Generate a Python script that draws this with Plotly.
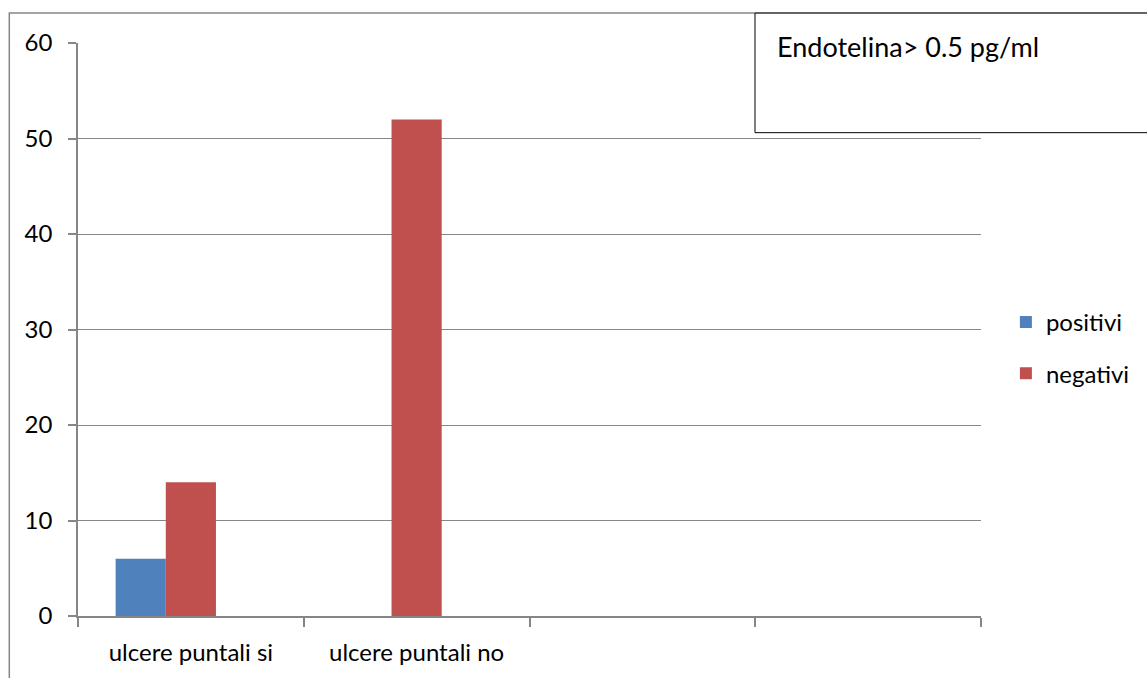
import plotly.graph_objects as go

categories = ["ulcere puntali si", "ulcere puntali no", "", ""]
positivi = [6, 0, None, None]
negativi = [14, 52, None, None]
spacer = [None, None, None, None]
title_text = "Endotelina> 0.5 pg/ml"
y_ticks = [0, 10, 20, 30, 40, 50, 60]

xpos = list(range(len(categories)))
FONT = "Lato, Liberation Sans, sans-serif"

fig = go.Figure()
fig.add_trace(go.Bar(x=xpos, y=positivi, name="positivi", legendgroup="a",
                     marker=dict(color="#4F81BD", line=dict(width=0))))
fig.add_trace(go.Bar(x=xpos, y=negativi, name="negativi", legendgroup="b",
                     marker=dict(color="#C0504D", line=dict(width=0))))
fig.add_trace(go.Bar(x=xpos, y=spacer, name="", showlegend=False, hoverinfo="skip"))

W, H = 1147, 678
L, R, T, B = 78, 985, 43, 618

fig.update_layout(
    width=W, height=H,
    margin=dict(l=L, r=W - R, t=T, b=H - B, pad=0),
    paper_bgcolor="white", plot_bgcolor="white",
    barmode="group", bargap=0.3333, bargroupgap=0,
    font=dict(family=FONT, size=24, color="black"),
    showlegend=True,
    legend=dict(x=(1010 - L) / (R - L), xanchor="left", y=(B - 349) / (B - T), yanchor="middle",
                font=dict(family=FONT, size=24, color="black"), bgcolor="rgba(0,0,0,0)",
                itemwidth=30, traceorder="grouped", tracegroupgap=17),
    xaxis=dict(range=[-0.5, 3.5], tickmode="array", tickvals=xpos, ticktext=categories,
               ticks="", showgrid=False, showline=True, linecolor="#868686", linewidth=1.5,
               zeroline=False, fixedrange=True, ticklabelstandoff=14,
               tickfont=dict(family=FONT, size=24, color="black"),
               minor=dict(tickmode="array", tickvals=[-0.5, 0.5, 1.5, 2.5, 3.5], ticks="outside",
                          ticklen=9, tickcolor="#868686", tickwidth=1.5, showgrid=False)),
    yaxis=dict(range=[0, 60], tickmode="array", tickvals=y_ticks, ticks="outside", ticklen=8,
               tickcolor="#868686", tickwidth=1.5, showgrid=True, gridcolor="#868686", gridwidth=1.4,
               showline=True, linecolor="#868686", linewidth=1.5, zeroline=False,
               tickfont=dict(family=FONT, size=24, color="black"),
               ticklabelstandoff=11, fixedrange=True),
)

# outer chart border
fig.add_shape(type="rect", xref="paper", yref="paper",
              x0=(9 - L) / (R - L), x1=(1160 - L) / (R - L),
              y0=(B - 690) / (B - T), y1=(B - 13) / (B - T),
              line=dict(color="#868686", width=1.5), fillcolor="rgba(0,0,0,0)", layer="below")
# title box
fig.add_shape(type="rect", xref="paper", yref="paper",
              x0=(758 - L) / (R - L), x1=(1160 - L) / (R - L),
              y0=(B - 133) / (B - T), y1=(B - 13) / (B - T),
              line=dict(color="black", width=1), fillcolor="white", layer="above")
fig.add_annotation(xref="paper", yref="paper", x=(778 - L) / (R - L), y=(B - 47) / (B - T),
                   xanchor="left", yanchor="middle", text=title_text, showarrow=False,
                   font=dict(family=FONT, size=27, color="black"))

fig.write_html("out.html")
